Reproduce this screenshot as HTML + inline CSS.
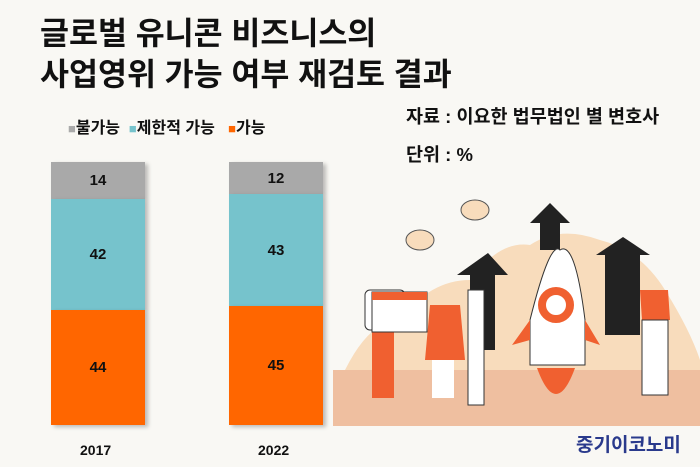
<!DOCTYPE html>
<html><head><meta charset="utf-8"><style>
body{margin:0;width:700px;height:467px;background:#f9f8f4;position:relative;overflow:hidden;font-family:"Liberation Sans","Noto Sans CJK KR",sans-serif;}
.t{position:absolute;font-weight:bold;color:#111;white-space:nowrap}
.b{position:absolute;display:flex;align-items:center;justify-content:center;font-weight:bold;font-size:15px;color:#111;box-shadow:3px 2px 4px rgba(0,0,0,0.25)}
</style></head><body>
<div class="t" style="left:40px;top:8px;font-size:31.5px;">글로벌 유니콘 비즈니스의</div>
<div class="t" style="left:40px;top:49px;font-size:31.5px;">사업영위 가능 여부 재검토 결과</div>
<div class="t" style="left:406px;top:103px;font-size:18.5px;">자료 : 이요한 법무법인 별 변호사</div>
<div class="t" style="left:406px;top:141px;font-size:18.5px;">단위 : %</div>
<div class="t" style="left:68px;top:114px;font-size:16px;"><span style="color:#aaa;font-size:13px">■</span>불가능&nbsp;&nbsp;<span style="color:#76c3cc;font-size:13px">■</span>제한적 가능&nbsp;&nbsp;&nbsp;<span style="color:#ff6600;font-size:13px">■</span>가능</div>
<svg style="position:absolute;left:0;top:0" width="700" height="467">
<path d="M345 370 Q370 320 400 320 Q430 280 470 280 Q500 240 530 245 Q560 225 600 240 Q640 250 665 290 Q690 330 700 360 L700 370Z" fill="#f8dcbc"/>
<rect x="333" y="370" width="367" height="56" fill="#efbfa0"/>
<path d="M470 350 L470 275 L457 275 L488 253 L508 275 L495 275 L495 350Z" fill="#222"/>
<path d="M540 250 L540 223 L530 223 L550 203 L570 223 L560 223 L560 250Z" fill="#222"/>
<path d="M605 335 L605 255 L596 255 L623 237 L650 255 L640 255 L640 335Z" fill="#222"/>
<path d="M530 320 Q550 240 560 250 Q575 240 585 320 L585 365 L530 365Z" fill="#fff" stroke="#333"/>
<circle cx="556" cy="305" r="14" fill="#fff" stroke="#f06030" stroke-width="8"/>
<path d="M530 320 L512 345 L530 340Z M585 320 L600 345 L585 340Z" fill="#f06030"/>
<path d="M537 368 Q556 420 575 368Z" fill="#f06030"/>
<rect x="468" y="290" width="16" height="115" fill="#fff" stroke="#333"/>
<rect x="372" y="328" width="22" height="70" fill="#f06030"/>
<rect x="365" y="290" width="40" height="40" rx="5" fill="#fff" stroke="#333"/>
<rect x="372" y="292" width="55" height="40" fill="#fff" stroke="#333"/>
<rect x="372" y="292" width="55" height="8" fill="#f06030"/>
<path d="M430 305 L460 305 L465 360 L425 360Z" fill="#f06030"/>
<rect x="432" y="360" width="22" height="38" fill="#fff"/>
<path d="M640 290 L668 290 L670 320 L642 320Z" fill="#f06030"/>
<rect x="642" y="320" width="26" height="75" fill="#fff" stroke="#333"/>
<ellipse cx="475" cy="210" rx="14" ry="10" fill="#f8dcbc" stroke="#555"/>
<ellipse cx="420" cy="240" rx="14" ry="10" fill="#f8dcbc" stroke="#555"/>
</svg>
<div class="b" style="left:51px;top:162px;width:94px;height:37px;background:#a9a9a9">14</div>
<div class="b" style="left:51px;top:199px;width:94px;height:111px;background:#76c3cc">42</div>
<div class="b" style="left:51px;top:310px;width:94px;height:115px;background:#ff6600">44</div>
<div class="b" style="left:229px;top:162px;width:94px;height:32px;background:#a9a9a9">12</div>
<div class="b" style="left:229px;top:194px;width:94px;height:112px;background:#76c3cc">43</div>
<div class="b" style="left:229px;top:306px;width:94px;height:119px;background:#ff6600">45</div>
<div class="t" style="left:80px;top:442px;font-size:14px;">2017</div>
<div class="t" style="left:258px;top:442px;font-size:14px;">2022</div>
<div class="t" style="left:576px;top:430px;font-size:19px;color:#2a3a8c;">중기이코노미</div>
</body></html>
